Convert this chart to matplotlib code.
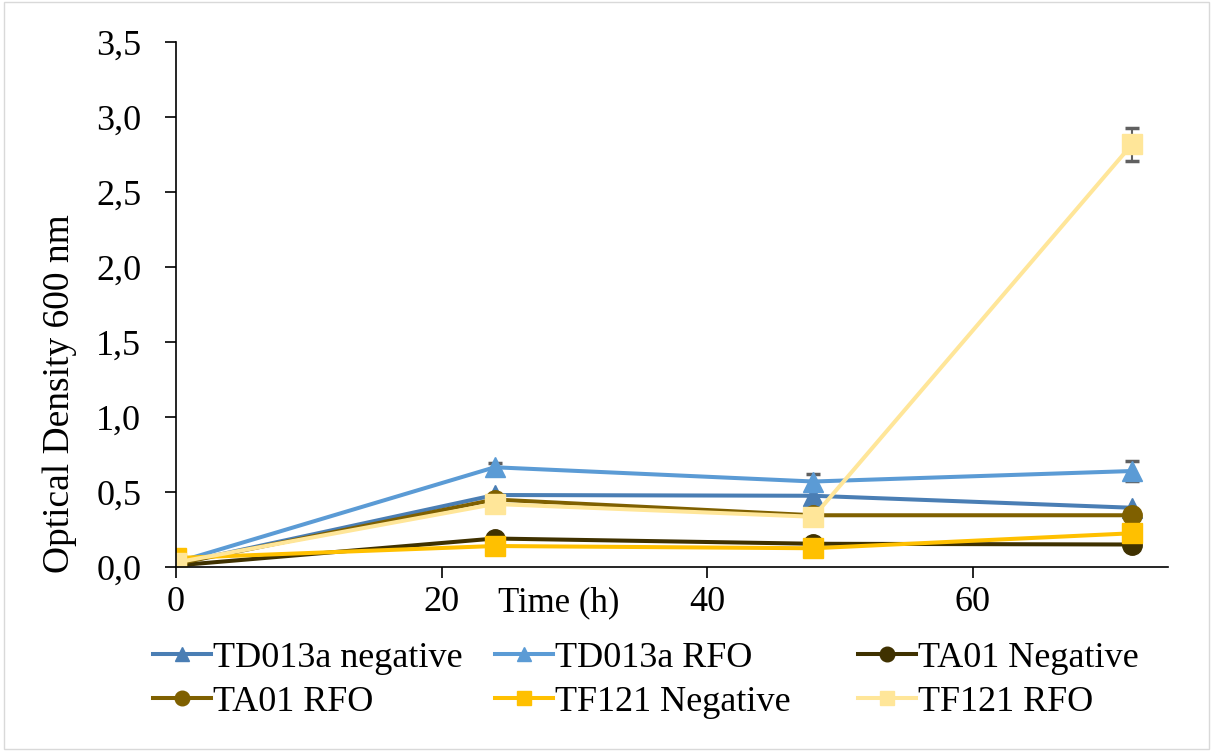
import matplotlib.pyplot as plt
from matplotlib.patches import Rectangle

# data
time = [0, 24, 48, 72]
td_neg = [0.02, 0.48, 0.475, 0.395]
td_rfo = [0.03, 0.665, 0.57, 0.64]
ta_neg = [0.01, 0.19, 0.155, 0.15]
ta_rfo = [0.02, 0.45, 0.345, 0.345]
tf_neg = [0.06, 0.14, 0.125, 0.225]
tf_rfo = [0.03, 0.42, 0.335, 2.82]

td_rfo_err = [0.0, 0.03, 0.05, 0.065]
tf_rfo_err = [0.0, 0.0, 0.0, 0.11]

names = ['TD013a negative', 'TD013a RFO', 'TA01 Negative',
         'TA01 RFO', 'TF121 Negative', 'TF121 RFO']
colors = ['#4a7eb4', '#5b9bd5', '#3f3100', '#7f6000', '#ffc000', '#ffe699']
markers = ['^', '^', 'o', 'o', 's', 's']
series = [td_neg, td_rfo, ta_neg, ta_rfo, tf_neg, tf_rfo]

plt.rcParams['font.family'] = ['Liberation Serif', 'DejaVu Serif']

fig = plt.figure(figsize=(12.13, 7.51), dpi=100)
ax = fig.add_axes([0.145, 0.245, 0.818, 0.699])

handles = []
for y, c, m, n in zip(series, colors, markers, names):
    h, = ax.plot(time, y, color=c, marker=m, lw=2.9, ms=14, mec=c, label=n)
    handles.append(h)

ax.errorbar(time, td_rfo, yerr=td_rfo_err, fmt='none', ecolor='#606060',
            capsize=5, elinewidth=1.5, capthick=2.5, zorder=1)
ax.errorbar(time, tf_rfo, yerr=tf_rfo_err, fmt='none', ecolor='#606060',
            capsize=5, elinewidth=1.5, capthick=2.5, zorder=1)

ax.set_xlim(0, 74.7)
ax.set_ylim(0, 3.5)
ax.set_xticks([0, 20, 40, 60])
ax.set_yticks([0, 0.5, 1.0, 1.5, 2.0, 2.5, 3.0, 3.5])
ax.set_yticklabels([('%.1f' % v).replace('.', ',') for v in ax.get_yticks()])
ax.tick_params(labelsize=26, length=8, width=1.2, direction='out', pad=6)
ax.tick_params(axis='y', pad=17)
for s in ['top', 'right']:
    ax.spines[s].set_visible(False)
for s in ['left', 'bottom']:
    ax.spines[s].set_linewidth(1.2)

ax.set_xlabel('Time (h)', fontsize=25)
ax.xaxis.set_label_coords(0.386, -0.069)
ax.xaxis.label.set_va('center')
ax.set_ylabel('Optical Density 600 nm', fontsize=27)
ax.yaxis.set_label_coords(-0.117, 0.33)
ax.yaxis.label.set_va('center')

# legend laid out as three fixed columns, two rows each
col_x = [153, 495, 858]
for k, x in enumerate(col_x):
    idx = [k, k + 3]
    leg = fig.legend([handles[i] for i in idx], [names[i] for i in idx],
                     loc='center left', bbox_to_anchor=(x / 1213, 1 - 680 / 751),
                     frameon=False, fontsize=26, markerscale=0.75,
                     handlelength=1.6, handletextpad=0.05, labelspacing=0.3,
                     borderpad=0, borderaxespad=0)

fig.add_artist(Rectangle((0.003, 0.003), 0.994, 0.994, transform=fig.transFigure,
                         fill=False, edgecolor='#d9d9d9', lw=1))

fig.savefig('out.png', dpi=100)
